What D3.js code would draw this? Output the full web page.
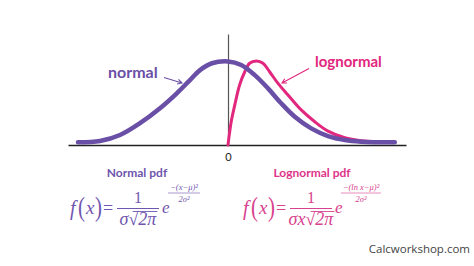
<!DOCTYPE html>
<html>
<head>
<meta charset="utf-8">
<script src="https://cdn.jsdelivr.net/npm/d3@7"></script>
<style>
    html, body { margin: 0; padding: 0; background: #fff; }
    svg { display: block; }
    .label { font-family: "Comic Sans MS", Lato, sans-serif; font-weight: 700; }
    .math { font-family: "Liberation Serif", "Times New Roman", serif; }
</style>
</head>
<body>
<svg id="chart" width="474" height="266"></svg>
<script>
// Normal curve (x in sigma units, y as density)
const normalX = [-3.75, -3.2, -2.7, -2.2, -1.7, -1.28, -0.95, -0.7, -0.4, 0,
    0.33, 0.67, 1.0, 1.33, 1.67, 2.08, 2.5, 2.92, 3.33, 4.17];
const normalY = [0.013, 0.019, 0.048, 0.105, 0.177, 0.249, 0.313, 0.361, 0.394, 0.403,
    0.386, 0.337, 0.273, 0.201, 0.136, 0.080, 0.043, 0.024, 0.016, 0.013];

// Lognormal curve
const lognormalX = [0, 0.08, 0.17, 0.29, 0.42, 0.54, 0.71, 0.875, 1.04, 1.25,
    1.5, 1.83, 2.17, 2.5, 2.92, 3.33, 3.75, 4.17];
const lognormalY = [0, 0.112, 0.193, 0.289, 0.353, 0.394, 0.405, 0.394, 0.353, 0.297,
    0.241, 0.169, 0.112, 0.067, 0.035, 0.021, 0.016, 0.014];

// Axis extent and tick
const xDomain = [-4, 4.45];
const yDomain = [0, 0.535];
const tickValues = [0];
const tickLabels = ["0"];

// Text
const seriesNames = ["normal", "lognormal"];
const pdfTitles = ["Normal pdf", "Lognormal pdf"];
const credit = "Calcworkshop.com";

const purple = "#6a4fa6";
const pink = "#e2277e";

const svg = d3.select("#chart");

// Scales
let x = d3.scaleLinear().domain(xDomain).range([68, 406]);
let y = d3.scaleLinear().domain(yDomain).range([145, 34]);

// Horizontal axis
let xAxis = d3.axisBottom(x)
    .tickValues(tickValues)
    .tickFormat((d, i) => tickLabels[i])
    .tickSize(0)
    .tickPadding(8);

let gx = svg.append("g")
    .attr("transform", "translate(0," + y(0) + ")")
    .call(xAxis);
gx.select(".domain").attr("stroke", "#222").attr("stroke-width", 1.6);
gx.selectAll("text")
    .attr("font-family", "Lato, sans-serif")
    .attr("font-size", 11)
    .attr("fill", "#222");

// Vertical axis (no ticks)
let yAxis = d3.axisLeft(y).tickValues([]).tickSize(0);
svg.append("g")
    .attr("transform", "translate(" + x(0) + ",0)")
    .call(yAxis)
    .select(".domain")
    .attr("stroke", "#555")
    .attr("stroke-width", 1.2);

// Curves
let line = d3.line()
    .x(d => x(d[0]))
    .y(d => y(d[1]))
    .curve(d3.curveCatmullRom.alpha(0.5));

let lognormalData = lognormalX.map((v, i) => [v, lognormalY[i]]);
let normalData = normalX.map((v, i) => [v, normalY[i]]);

svg.append("path")
    .datum(lognormalData)
    .attr("d", line)
    .attr("fill", "none")
    .attr("stroke", pink)
    .attr("stroke-width", 3)
    .attr("stroke-linecap", "round");

svg.append("path")
    .datum(normalData)
    .attr("d", line)
    .attr("fill", "none")
    .attr("stroke", purple)
    .attr("stroke-width", 4.5)
    .attr("stroke-linecap", "round");

// Series labels with hand drawn arrows
function arrow(x1, y1, x2, y2, color) {
    let a = Math.atan2(y2 - y1, x2 - x1);
    let h = 5;
    let p = d3.path();
    p.moveTo(x1, y1);
    p.lineTo(x2, y2);
    p.moveTo(x2 - h * Math.cos(a - 0.5), y2 - h * Math.sin(a - 0.5));
    p.lineTo(x2, y2);
    p.lineTo(x2 - h * Math.cos(a + 0.5), y2 - h * Math.sin(a + 0.5));
    svg.append("path")
        .attr("d", p.toString())
        .attr("fill", "none")
        .attr("stroke", color)
        .attr("stroke-width", 1.1);
}

svg.append("text").attr("class", "label")
    .attr("x", 108).attr("y", 78)
    .attr("font-size", 16).attr("fill", purple)
    .text(seriesNames[0]);
arrow(164, 77.5, 182, 83, purple);

svg.append("text").attr("class", "label")
    .attr("x", 315).attr("y", 67)
    .attr("font-size", 15).attr("fill", pink)
    .text(seriesNames[1]);
arrow(309, 68.5, 282, 83, pink);

// Pdf titles
svg.append("text").attr("class", "label")
    .attr("x", 137).attr("y", 177)
    .attr("text-anchor", "middle")
    .attr("font-size", 12).attr("fill", "#6e55ad")
    .text(pdfTitles[0]);
svg.append("text").attr("class", "label")
    .attr("x", 312).attr("y", 177)
    .attr("text-anchor", "middle")
    .attr("font-size", 12).attr("fill", "#de3489")
    .text(pdfTitles[1]);

/**
 * Draws f(x) = 1 / (denominator) e^(exponent) as text pieces
 */
function formula(ox, color, denom, sqrtStart, expTop, expWidth) {
    let g = svg.append("g").attr("class", "math").attr("fill", color);

    // f(x) =
    g.append("text").attr("x", ox).attr("y", 215)
        .attr("font-size", 20).attr("font-style", "italic").text("f");
    // tall brackets
    g.append("text").attr("transform", "translate(" + (ox + 8) + ",216) scale(1,1.3)")
        .attr("font-size", 21).attr("font-weight", 300).text("(");
    g.append("text").attr("x", ox + 16).attr("y", 214)
        .attr("font-size", 19).attr("font-style", "italic").text("x");
    g.append("text").attr("transform", "translate(" + (ox + 25) + ",216) scale(1,1.3)")
        .attr("font-size", 21).attr("font-weight", 300).text(")");
    g.append("text").attr("x", ox + 33).attr("y", 214)
        .attr("font-size", 18).text("=");

    // fraction
    let fx = ox + 47;
    let tw = 42;
    g.append("line")
        .attr("x1", fx).attr("x2", fx + tw)
        .attr("y1", 208.5).attr("y2", 208.5)
        .attr("stroke", color).attr("stroke-width", 1);
    g.append("text").attr("x", fx + tw / 2).attr("y", 203)
        .attr("text-anchor", "middle").attr("font-size", 16).text("1");
    let dt = g.append("text").attr("x", fx + tw / 2).attr("y", 225)
        .attr("text-anchor", "middle").attr("font-size", 18).attr("font-style", "italic")
        .text(denom);
    // overline of the square root
    let bb = dt.node().getBBox();
    g.append("line")
        .attr("x1", bb.x + sqrtStart).attr("x2", bb.x + bb.width)
        .attr("y1", 211.5).attr("y2", 211.5)
        .attr("stroke", color).attr("stroke-width", 0.9);

    // e with exponent
    let ex = fx + tw + 3;
    g.append("text").attr("x", ex).attr("y", 213)
        .attr("font-size", 17).attr("font-style", "italic").text("e");
    let nx = ex + 6;
    g.append("text").attr("x", nx + expWidth / 2).attr("y", 190)
        .attr("text-anchor", "middle").attr("font-size", 8.5).attr("font-style", "italic")
        .text(expTop);
    g.append("line")
        .attr("x1", nx).attr("x2", nx + expWidth)
        .attr("y1", 193).attr("y2", 193)
        .attr("stroke", color).attr("stroke-width", 0.6);
    g.append("text").attr("x", nx + expWidth / 2).attr("y", 202)
        .attr("text-anchor", "middle").attr("font-size", 8.5).attr("font-style", "italic")
        .text("2σ²");
}

formula(70, "#6f56b0", "σ√2π", 13, "−(x−μ)²", 32);
formula(243, "#d8418e", "σx√2π", 22, "−(ln x−μ)²", 40);

// Credit
svg.append("text")
    .attr("x", 470).attr("y", 253)
    .attr("text-anchor", "end")
    .attr("font-family", "'Open Sans', sans-serif")
    .attr("font-size", 11.5)
    .attr("fill", "#444")
    .text(credit);
</script>
</body>
</html>
